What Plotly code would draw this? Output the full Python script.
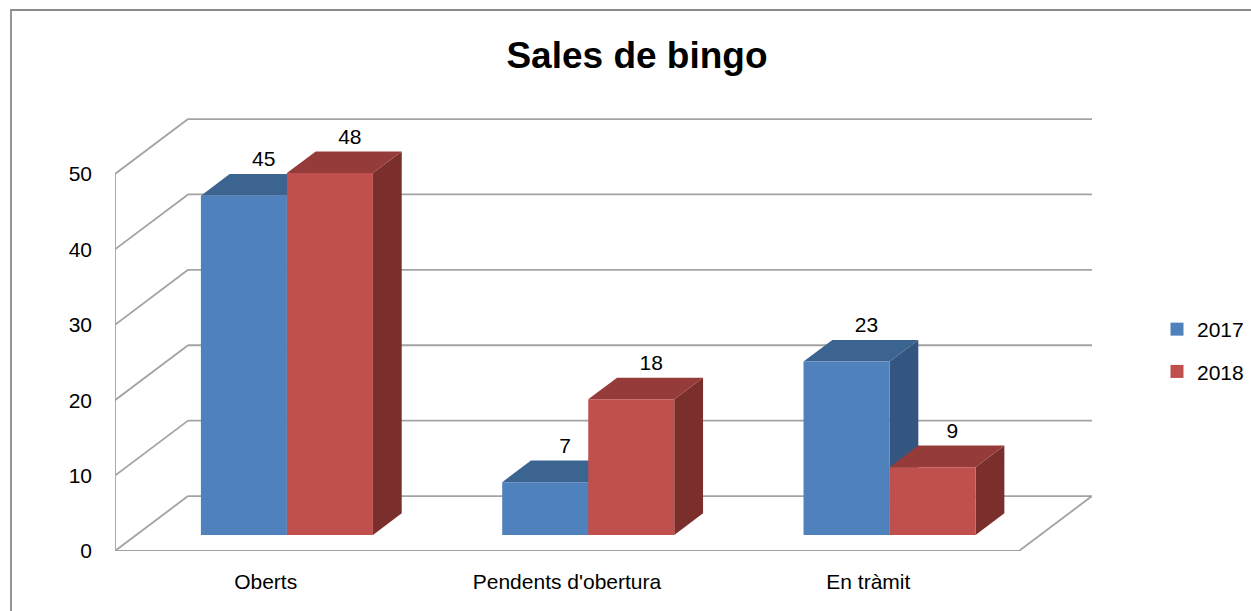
import plotly.graph_objects as go

# ---------------- data ----------------
categories = ["Oberts", "Pendents d'obertura", "En tràmit"]
series_names = ["2017", "2018"]
values_2017 = [45, 7, 23]
values_2018 = [48, 18, 9]
y_tick_values = [0, 10, 20, 30, 40, 50]

# ---------------- styling / geometry ----------------
W, H = 1251, 611
M_L, M_R, M_T, M_B = 115, 159, 114, 60
PX_PER_UNIT = 7.54
Y_MAX = (H - M_T - M_B) / PX_PER_UNIT

DEPTH_X = 0.2424      # full floor depth, in category units
DEPTH_Y = 7.29        # full floor depth, in value units
Z_FRONT, Z_BACK = 0.291, 0.685
BAR_W = 0.2855
X_LO, X_HI = -0.5, len(categories) - 0.5

FRONT = {"2017": "#4F81BD", "2018": "#C0504D"}
TOP = {"2017": "#3C6491", "2018": "#953C3A"}
SIDE = {"2017": "#33557F", "2018": "#7B2F2D"}
GRID = "#A3A3A3"
FONT = "Liberation Sans, Arial, sans-serif"

fig = go.Figure()

# ---------------- walls / grid ----------------
gx, gy = [], []
for v in y_tick_values:
    # back wall gridline
    gx += [X_LO + DEPTH_X, X_HI + DEPTH_X, None]
    gy += [v + DEPTH_Y, v + DEPTH_Y, None]
    # left wall diagonal
    gx += [X_LO, X_LO + DEPTH_X, None]
    gy += [v, v + DEPTH_Y, None]
# front-left vertical edge
gx += [X_LO, X_LO, None]
gy += [0, y_tick_values[-1], None]
# floor front + right edges
gx += [X_LO, X_HI, X_HI + DEPTH_X, None]
gy += [0, 0, DEPTH_Y, None]
fig.add_trace(go.Scatter(x=gx, y=gy, mode="lines", line=dict(color=GRID, width=1.8),
                         hoverinfo="skip", showlegend=False))

# ---------------- 3D bars ----------------
ddx = (Z_BACK - Z_FRONT) * DEPTH_X
ddy = (Z_BACK - Z_FRONT) * DEPTH_Y
series = [("2017", values_2017), ("2018", values_2018)]
label_x, label_y, label_t = [], [], []
for ci, cat in enumerate(categories):
    for si, (name, vals) in enumerate(series):
        v = vals[ci]
        xa = ci + (si - 1) * BAR_W + Z_FRONT * DEPTH_X
        xb = xa + BAR_W
        ya = Z_FRONT * DEPTH_Y
        yt = ya + v
        # side face
        fig.add_trace(go.Scatter(x=[xb, xb + ddx, xb + ddx, xb, xb],
                                 y=[ya, ya + ddy, yt + ddy, yt, ya],
                                 mode="lines", fill="toself", fillcolor=SIDE[name],
                                 line=dict(width=0, color=SIDE[name]),
                                 hoverinfo="skip", showlegend=False))
        # top face
        fig.add_trace(go.Scatter(x=[xa, xb, xb + ddx, xa + ddx, xa],
                                 y=[yt, yt, yt + ddy, yt + ddy, yt],
                                 mode="lines", fill="toself", fillcolor=TOP[name],
                                 line=dict(width=0, color=TOP[name]),
                                 hoverinfo="skip", showlegend=False))
        # front face
        fig.add_trace(go.Scatter(x=[xa, xb, xb, xa, xa],
                                 y=[ya, ya, yt, yt, ya],
                                 mode="lines", fill="toself", fillcolor=FRONT[name],
                                 line=dict(width=0, color=FRONT[name]),
                                 name=f"{name} – {cat}", text=[str(v)] * 5,
                                 hoverinfo="name+text", showlegend=False))
        label_x.append((xa + xb) / 2 + 0.066)
        label_y.append(yt + ddy + 13 / PX_PER_UNIT)
        label_t.append(str(v))

fig.add_trace(go.Scatter(x=label_x, y=label_y, text=label_t, mode="text",
                         textposition="middle center",
                         textfont=dict(family=FONT, size=21, color="#000000"),
                         hoverinfo="skip", showlegend=False))

# ---------------- legend entries ----------------
for name in series_names:
    fig.add_trace(go.Scatter(x=[None], y=[None], mode="markers", name=name,
                             legendgroup=name,
                             marker=dict(symbol="square", size=13, color=FRONT[name])))

fig.update_layout(
    width=W, height=H,
    margin=dict(l=M_L, r=M_R, t=M_T, b=M_B, autoexpand=False),
    paper_bgcolor="white", plot_bgcolor="white",
    title=dict(text="<b>Sales de bingo</b>", x=637 / W, xref="container", xanchor="center",
               y=1 - 55 / H, yref="container", yanchor="middle",
               font=dict(family=FONT, size=37, color="#000000")),
    xaxis=dict(range=[X_LO, X_HI + DEPTH_X], showgrid=False, zeroline=False, showline=False,
               tickmode="array", tickvals=list(range(len(categories))), ticktext=categories,
               ticks="", ticklabelstandoff=16,
               tickfont=dict(family=FONT, size=21, color="#000000"), fixedrange=True),
    yaxis=dict(range=[0, Y_MAX], showgrid=False, zeroline=False, showline=False,
               tickmode="array", tickvals=y_tick_values, ticks="", ticklabelstandoff=22,
               tickfont=dict(family=FONT, size=21, color="#000000"), fixedrange=True),
    legend=dict(x=(1157 - M_L) / (W - M_L - M_R), y=(H - M_B - 309) / (H - M_T - M_B),
                xanchor="left", yanchor="top", tracegroupgap=12,
                font=dict(family=FONT, size=21, color="#000000"), bgcolor="rgba(0,0,0,0)"),
    shapes=[dict(type="rect", xref="paper", yref="paper",
                 x0=(11 - M_L) / (W - M_L - M_R), x1=(W + 20 - M_L) / (W - M_L - M_R),
                 y0=-(H + 20 - (H - M_B)) / (H - M_T - M_B), y1=(H - M_B - 10) / (H - M_T - M_B),
                 line=dict(color="#8A8A8A", width=1.8), fillcolor="rgba(0,0,0,0)", layer="below")],
)

fig.write_html("out.html", config={"displayModeBar": False},
               post_script="document.body.style.margin='0px';document.body.style.padding='0px';")
